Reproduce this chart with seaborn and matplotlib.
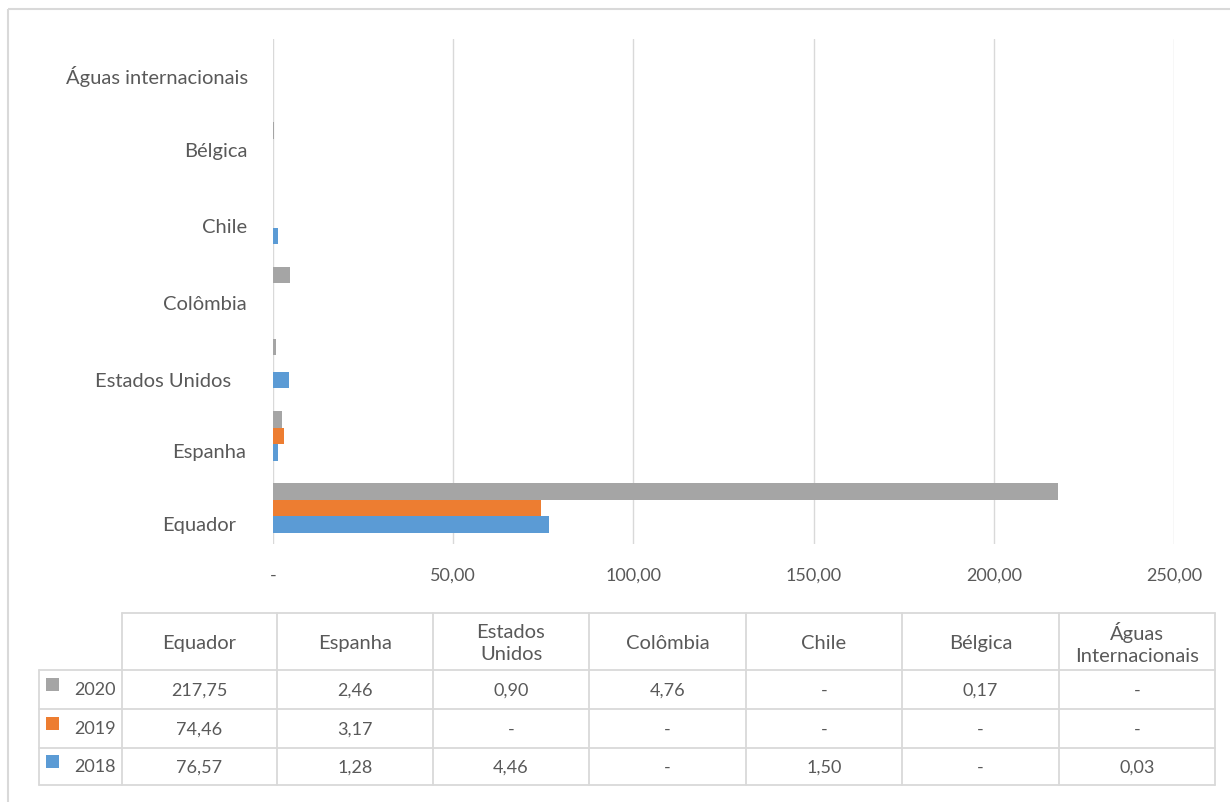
import matplotlib
matplotlib.use("Agg")
import matplotlib.pyplot as plt
import seaborn as sns
import pandas as pd
from matplotlib.ticker import FuncFormatter, FixedLocator
from matplotlib.transforms import ScaledTranslation

# ---------------- data ----------------
countries = ["Equador", "Espanha", "Estados Unidos", "Colômbia", "Chile", "Bélgica", "Águas internacionais"]
table_headers = ["Equador", "Espanha", "Estados\nUnidos", "Colômbia", "Chile", "Bélgica", "Águas\nInternacionais"]
years = ["2020", "2019", "2018"]
v2020 = [217.75, 2.46, 0.90, 4.76, 0.0, 0.17, 0.0]
v2019 = [74.46, 3.17, 0.0, 0.0, 0.0, 0.0, 0.0]
v2018 = [76.57, 1.28, 4.46, 0.0, 1.50, 0.0, 0.03]
x_ticks = [0, 50, 100, 150, 200, 250]

colors = {"2020": "#A5A5A5", "2019": "#ED7D31", "2018": "#5B9BD5"}
TXT = "#595959"
GRID = "#D9D9D9"

series = {"2020": v2020, "2019": v2019, "2018": v2018}
rows = []
for y in years:
    for c, v in zip(countries, series[y]):
        rows.append({"País": c, "Ano": y, "Valor": v})
df = pd.DataFrame(rows)

sns.set_theme(style="white")
plt.rcParams["font.family"] = ["Lato", "DejaVu Sans"]
FS_TXT = 14.5   # words
FS_NUM = 13     # numbers

W, H = 1230, 803
fig = plt.figure(figsize=(W / 100, H / 100), dpi=100)
fig.patch.set_facecolor("white")

def fx(px):
    return px / W

def fy(py):
    return 1 - py / H

# main plot area (pixels): x 273..1174, y 40..545
ax = fig.add_axes([fx(273), fy(545), fx(1174) - fx(273), (545 - 40) / H])
order = countries[::-1]
sns.barplot(data=df, y="País", x="Valor", hue="Ano", hue_order=years, order=order,
            palette=colors, orient="h", width=0.687, gap=0, ax=ax, legend=False,
            saturation=1, edgecolor="none", linewidth=0)
ax.set_xlim(0, 250)
ax.set_ylim(len(order) - 0.5, -0.5)
ax.xaxis.set_major_locator(FixedLocator(x_ticks))
ax.xaxis.set_major_formatter(FuncFormatter(lambda v, p: "-" if v == 0 else f"{v:.2f}".replace(".", ",")))
ax.grid(axis="x", color=GRID, linewidth=1.0)
ax.set_axisbelow(True)
for s in ax.spines.values():
    s.set_visible(False)
ax.set_xlabel("")
ax.set_ylabel("")
ax.tick_params(axis="x", length=0, pad=16.5, labelsize=FS_NUM, labelcolor=TXT)
ax.tick_params(axis="y", length=0, pad=18.0, labelsize=FS_TXT, labelcolor=TXT)

# Excel-like placement of category labels (pixels: left, down)
shift = {"Águas internacionais": (0, -1), "Bélgica": (-1, 2), "Chile": (-1, 6), "Colômbia": (-1, 10),
         "Estados Unidos": (-17, 15), "Espanha": (-2, 14), "Equador": (-12, 15)}
for lbl in ax.get_yticklabels():
    dx, dy = shift.get(lbl.get_text(), (0, 0))
    lbl.set_transform(lbl.get_transform() + ScaledTranslation(dx / 100, -dy / 100, fig.dpi_scale_trans))

# ---------------- overlay for border and table ----------------
ov = fig.add_axes([0, 0, 1, 1], zorder=-1)
ov.set_xlim(0, W)
ov.set_ylim(H, 0)
ov.axis("off")

# outer chart border (top and left visible)
ov.plot([8, W], [10, 10], color=GRID, lw=1.5, solid_capstyle="butt")
ov.plot([8, 8], [10, H], color=GRID, lw=1.5, solid_capstyle="butt")

col_x = [39, 122, 277, 433, 589, 746, 902, 1059, 1215]
row_y = [614, 671, 710, 749, 786]
lw = 1.3
ov.plot([col_x[1], col_x[-1]], [row_y[0], row_y[0]], color=GRID, lw=lw)
for yy in row_y[1:]:
    ov.plot([col_x[0], col_x[-1]], [yy, yy], color=GRID, lw=lw)
ov.plot([col_x[0], col_x[0]], [row_y[1], row_y[-1]], color=GRID, lw=lw)
for xx in col_x[1:]:
    ov.plot([xx, xx], [row_y[0], row_y[-1]], color=GRID, lw=lw)

for i, h in enumerate(table_headers):
    cx = (col_x[i + 1] + col_x[i + 2]) / 2
    ov.text(cx, (row_y[0] + row_y[1]) / 2 + 1, h, ha="center", va="center",
            fontsize=FS_TXT, color=TXT, linespacing=1.3)

def fmt(v):
    return "-" if v == 0 else f"{v:.2f}".replace(".", ",")

for r, y in enumerate(years):
    cy = (row_y[r + 1] + row_y[r + 2]) / 2
    ov.add_patch(plt.Rectangle((46, cy - 12), 13, 13, color=colors[y], lw=0))
    ov.text(116, cy, y, ha="right", va="center", fontsize=FS_NUM, color=TXT)
    for i, v in enumerate(series[y]):
        cx = (col_x[i + 1] + col_x[i + 2]) / 2
        ov.text(cx, cy, fmt(v), ha="center", va="center", fontsize=FS_NUM, color=TXT)

fig.savefig("out.png", dpi=100, facecolor="white")
